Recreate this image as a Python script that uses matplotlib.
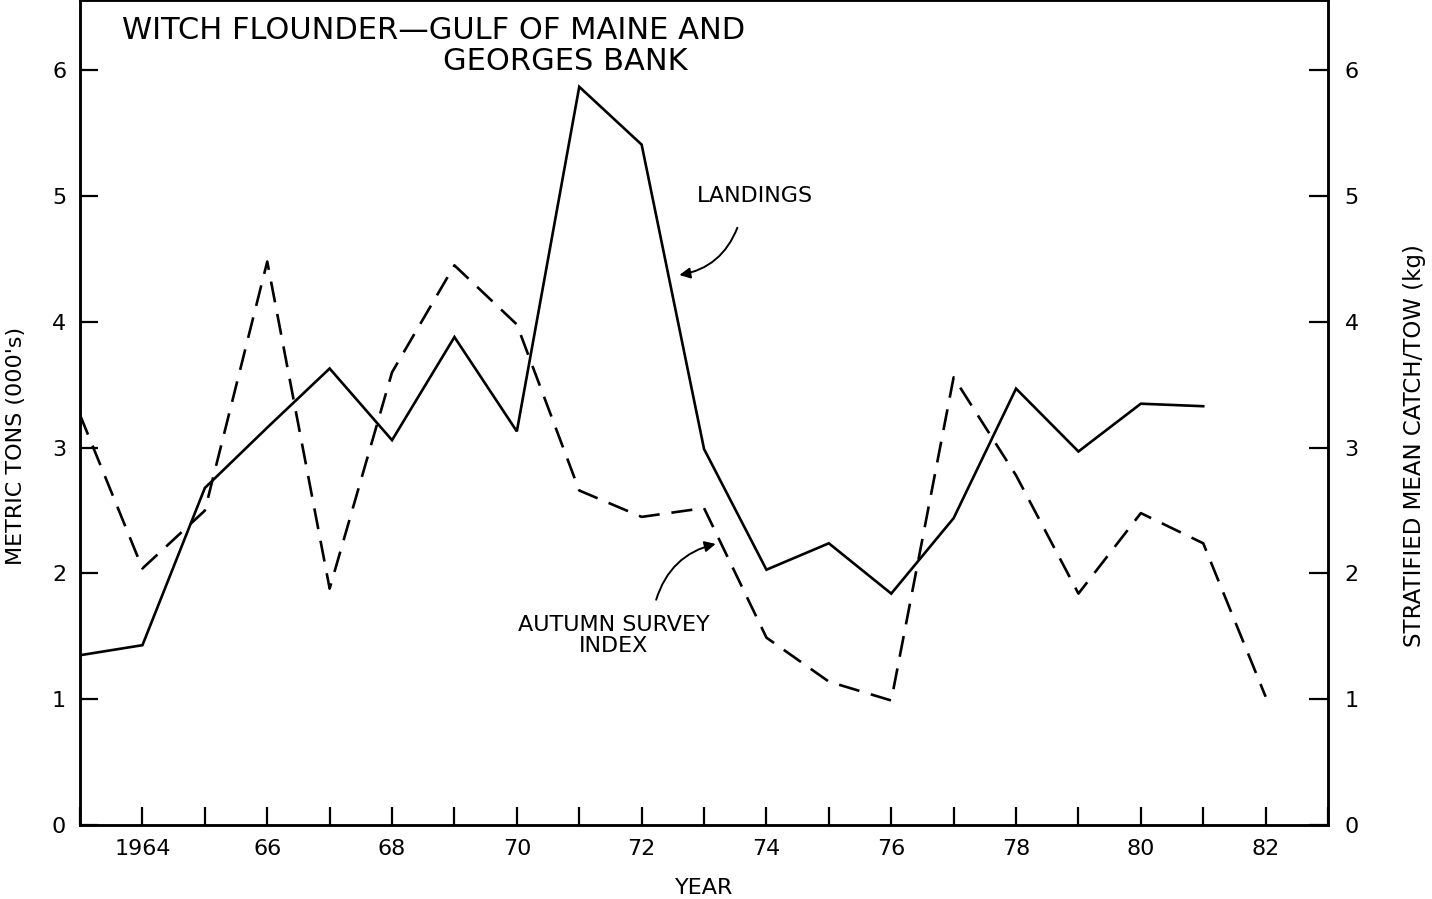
import matplotlib
matplotlib.use("Agg")
import matplotlib.pyplot as plt
from matplotlib.ticker import MultipleLocator

# values
years_landings = [1963, 1964, 1965, 1966, 1967, 1968, 1969, 1970, 1971, 1972,
                  1973, 1974, 1975, 1976, 1977, 1978, 1979, 1980, 1981]
landings = [1.35, 1.43, 2.68, 3.16, 3.63, 3.06, 3.88, 3.13, 5.87, 5.41,
            2.99, 2.03, 2.24, 1.84, 2.44, 3.47, 2.97, 3.35, 3.33]

years_survey = [1963, 1964, 1965, 1966, 1967, 1968, 1969, 1970, 1971, 1972,
                1973, 1974, 1975, 1976, 1977, 1978, 1979, 1980, 1981, 1982]
survey_index = [3.26, 2.04, 2.50, 4.48, 1.88, 3.60, 4.45, 3.98, 2.66, 2.45,
                2.52, 1.49, 1.14, 0.99, 3.56, 2.78, 1.84, 2.48, 2.24, 1.02]

year_ticks = [1964, 1966, 1968, 1970, 1972, 1974, 1976, 1978, 1980, 1982]
year_labels = ["1964", "66", "68", "70", "72", "74", "76", "78", "80", "82"]
y_ticks = [0, 1, 2, 3, 4, 5, 6]

plt.rcParams['font.family'] = ['DejaVu Sans']

fig = plt.figure(figsize=(14.32, 8.99), dpi=100)
ax = fig.add_axes([0.0559, 0.0823, 0.8715, 0.9177])
ax2 = ax.twinx()

lw = 1.9
ax.plot(years_landings, landings, color="black", lw=lw, solid_joinstyle="miter")
ax2.plot(years_survey, survey_index, color="black", lw=lw, dashes=(8, 4.5))

for a in (ax, ax2):
    a.set_xlim(1963, 1983)
    a.set_ylim(0, 6.56)
    a.set_yticks(y_ticks)
    for s in a.spines.values():
        s.set_linewidth(1.8)

ax.set_xticks(year_ticks)
ax.set_xticklabels(year_labels)
ax.xaxis.set_minor_locator(MultipleLocator(1))
ax.tick_params(axis="x", which="both", direction="in", length=13, width=1.6,
               labelsize=16, pad=10)
ax.tick_params(axis="y", direction="in", length=13, width=1.6, labelsize=16, pad=10)
ax2.tick_params(axis="y", direction="in", length=14, width=1.6, labelsize=16, pad=12)

ax.set_xlabel("YEAR", fontsize=16, labelpad=14)
ax.set_ylabel("METRIC TONS (000's)", fontsize=16, labelpad=16)
ax.yaxis.set_label_coords(-0.043, 0.46)
ax2.set_ylabel("STRATIFIED MEAN CATCH/TOW (kg)", fontsize=16.5, labelpad=18)
ax2.yaxis.set_label_coords(1.06, 0.46)

# title inside the plot
ax.text(1963.68, 6.32, "WITCH FLOUNDER\u2014GULF OF MAINE AND", fontsize=22,
        ha="left", va="center")
ax.text(1968.82, 6.07, "GEORGES BANK", fontsize=22, ha="left", va="center")

# labels with curved arrows
ax.text(1973.82, 5.0, "LANDINGS", fontsize=16, ha="center", va="center")
ax.annotate("", xy=(1972.56, 4.37), xytext=(1973.55, 4.77),
            arrowprops=dict(arrowstyle="-|>", color="black", lw=1.4,
                            mutation_scale=16,
                            connectionstyle="arc3,rad=-0.3"))

ax.text(1971.55, 1.51, "AUTUMN SURVEY\nINDEX", fontsize=16, ha="center",
        va="center", linespacing=1.05)
ax.annotate("", xy=(1973.23, 2.24), xytext=(1972.22, 1.77),
            arrowprops=dict(arrowstyle="-|>", color="black", lw=1.4,
                            mutation_scale=16,
                            connectionstyle="arc3,rad=-0.3"))

fig.savefig("out.png", dpi=100)
